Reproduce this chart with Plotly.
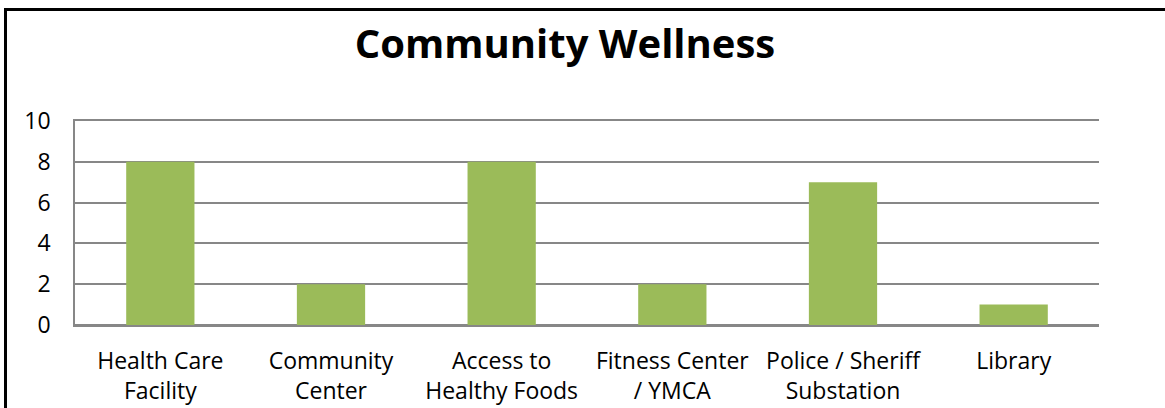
import plotly.graph_objects as go

categories = ["Health Care<br>Facility", "Community<br>Center", "Access to<br>Healthy Foods",
              "Fitness Center<br>/ YMCA", "Police / Sheriff<br>Substation", "Library"]
values = [8, 2, 8, 2, 7, 1]
y_ticks = [0, 2, 4, 6, 8, 10]

W, H = 1165, 408
L, R, T, B = 75, 66, 121, 83
pw, ph = W - L - R, H - T - B

fig = go.Figure(go.Bar(
    x=categories, y=values,
    marker=dict(color="#9BBB59", line=dict(width=0)),
))

font = dict(family="Open Sans", size=23, color="#000000")
grid = "#878787"

fig.update_layout(
    width=W, height=H, autosize=False,
    margin=dict(l=L, r=R, t=T, b=B, pad=0, autoexpand=False),
    paper_bgcolor="white", plot_bgcolor="white",
    bargap=0.6,
    showlegend=False,
    title=dict(text="<b>Community Wellness</b>", x=565 / W, xanchor="center",
               xref="container", y=1 - 30 / H, yanchor="top", yref="container",
               font=dict(family="Open Sans", size=40, color="#000000")),
    font=font,
    xaxis=dict(type="category", showgrid=False, automargin=False,
               showline=True, mirror=True, linecolor=grid, linewidth=1.5,
               ticks="outside", ticklen=15, tickcolor="rgba(0,0,0,0)",
               tickfont=font, zeroline=False),
    yaxis=dict(range=[0, 10], tickvals=y_ticks, ticktext=[str(v) for v in y_ticks],
               automargin=False,
               showgrid=True, gridcolor=grid, gridwidth=1.5,
               showline=True, linecolor=grid, linewidth=1.5,
               zeroline=True, zerolinecolor=grid, zerolinewidth=1.5,
               ticks="outside", ticklen=18, tickcolor="rgba(0,0,0,0)",
               tickfont=font),
    shapes=[dict(type="rect", xref="paper", yref="paper",
                 x0=(5.5 - L) / pw, x1=1.2, y0=-1, y1=(H - B - 9.5) / ph,
                 line=dict(color="#000000", width=3), fillcolor="rgba(0,0,0,0)",
                 layer="above")],
)

fig.write_html("out.html", config={"displayModeBar": False},
               post_script="document.body.style.margin='0';")
